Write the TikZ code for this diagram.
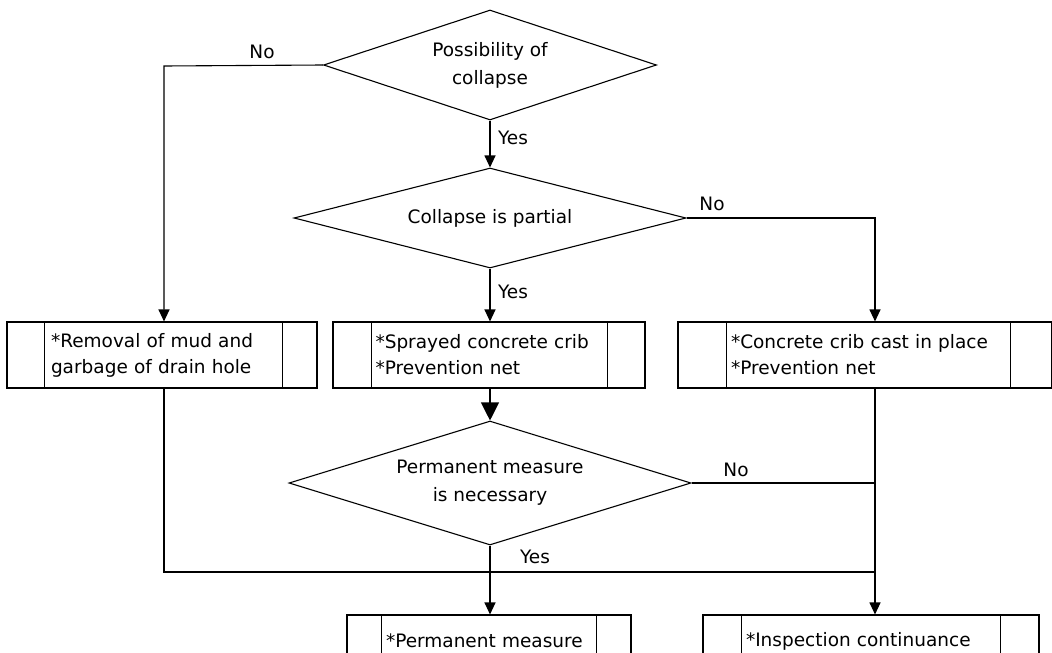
\documentclass[tikz,border=0pt]{standalone}
\usepackage{fontspec}
\setmainfont{DejaVu Sans}
\usetikzlibrary{shapes.geometric,arrows.meta}

\tikzset{
  flow/.style={line width=1.1pt},
  arr/.style={flow,-{Triangle[width=11pt,length=12pt]}},
  bigarr/.style={flow,-{Triangle[width=18pt,length=18pt]}},
  decision/.style={draw,diamond,line width=1.1pt,inner sep=0pt,align=center,
    font=\fontsize{18.5}{28}\selectfont},
  procbox/.style={draw,rectangle,line width=1.1pt,inner sep=0pt,align=left,
    font=\fontsize{18.5}{26}\selectfont},
  lbl/.style={inner sep=0pt,font=\fontsize{18.5}{22}\selectfont},
}

\begin{document}
\begin{tikzpicture}[x=1pt,y=-1pt]
\useasboundingbox (0,0) rectangle (1052,653);
\clip (0,0) rectangle (1052,653);

% decisions
\node[decision, minimum width=333, minimum height=110, aspect=3] (collapse) at (490,65) {Possibility of\\collapse};
\node[decision, minimum width=392, minimum height=100, aspect=3.9] (partial) at (490,218) {Collapse is partial};
\node[decision, minimum width=402, minimum height=124, aspect=3.2] (necessary) at (490,483) {Permanent measure\\is necessary};

% measures
\node[procbox, minimum width=310, minimum height=66, text width=222] (removal) at (162,355) {*Removal of mud and\\garbage of drain hole};
\node[procbox, minimum width=312, minimum height=66, text width=227] (sprayed) at (489,355) {*Sprayed concrete crib\\{}*Prevention net};
\node[procbox, minimum width=374, minimum height=66, text width=268] (castin) at (865,355) {*Concrete crib cast in place\\{}*Prevention net};
\node[procbox, minimum width=284, minimum height=52, text width=206] (permanent) at (489,641) {*Permanent measure};
\node[procbox, minimum width=336, minimum height=52, text width=250] (inspect) at (871,641) {*Inspection continuance};

\foreach \b/\l/\r in {removal/38/35, sprayed/39/38, castin/49/42, permanent/35/35, inspect/39/39}
  \draw[flow] ([xshift=\l]\b.north west) -- ([xshift=\l]\b.south west)
              ([xshift=-\r]\b.north east) -- ([xshift=-\r]\b.south east);

\coordinate (lcol) at (164,66);
\coordinate (rcol) at (875,218);
\coordinate (bus) at (164,572);

% connectors
\draw[arr] (collapse.south) -- (partial.north);
\draw[arr] (collapse.west) -- (lcol) -- (lcol |- removal.north);
\draw[arr] (partial.south) -- (partial.south |- sprayed.north);
\draw[arr] (partial.east) -- (rcol) -- (rcol |- castin.north);
\draw[bigarr] (necessary.north |- sprayed.south) -- (necessary.north);
\draw[flow] (necessary.east) -- (necessary.east -| rcol);
\draw[arr] (rcol |- castin.south) -- (rcol |- inspect.north);
\draw[flow] (lcol |- removal.south) -- (bus) -- (bus -| rcol);
\draw[arr] (necessary.south) -- (necessary.south |- permanent.north);

% branch labels
\node[lbl] (no1) at (262,52) {No};
\node[lbl] (yes1) at (513,138) {Yes};
\node[lbl] (no2) at (712,204) {No};
\node[lbl] (yes2) at (513,292) {Yes};
\node[lbl] (no3) at (736,470) {No};
\node[lbl] (yes3) at (535,557) {Yes};
\end{tikzpicture}
\end{document}
